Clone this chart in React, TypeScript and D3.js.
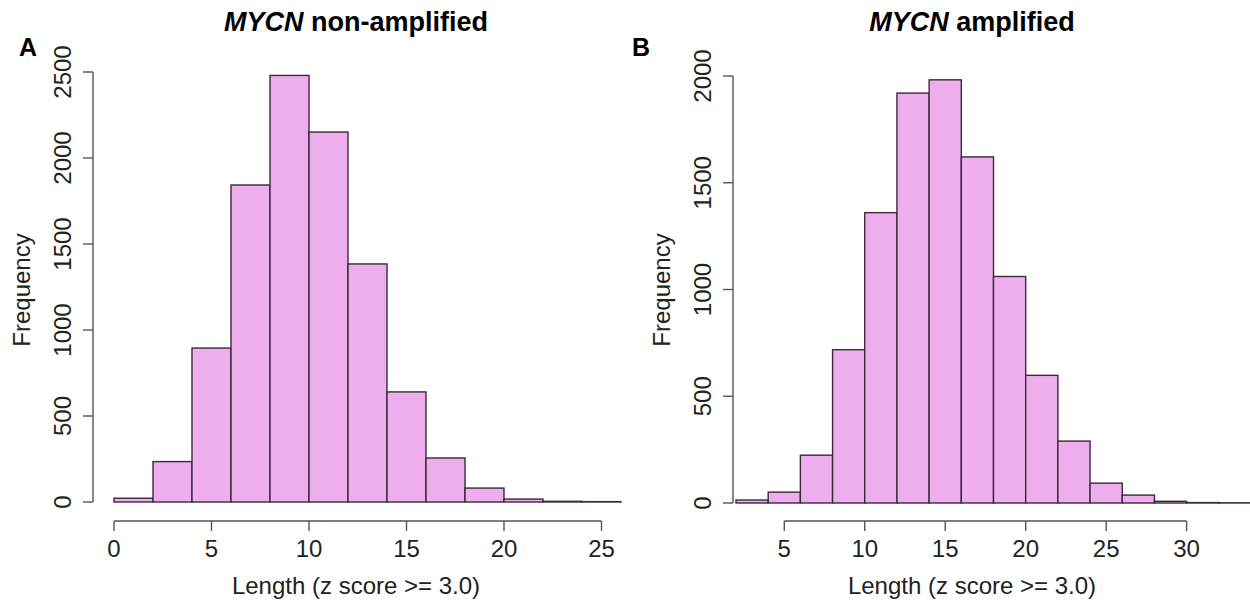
import * as d3 from "d3";

// histogram bins are 2 units wide
const binStartsA = [0, 2, 4, 6, 8, 10, 12, 14, 16, 18, 20, 22, 24];
const countsA = [22, 235, 895, 1843, 2480, 2151, 1384, 640, 256, 81, 17, 4, 2];
const xTicksA = [0, 5, 10, 15, 20, 25];
const yTicksA = [0, 500, 1000, 1500, 2000, 2500];

const binStartsB = [2, 4, 6, 8, 10, 12, 14, 16, 18, 20, 22, 24, 26, 28, 30, 32];
const countsB = [14, 51, 224, 718, 1360, 1920, 1982, 1621, 1061, 598, 290, 93, 37, 8, 2, 1];
const xTicksB = [5, 10, 15, 20, 25, 30];
const yTicksB = [0, 500, 1000, 1500, 2000];

const binWidth = 2;
const font = "'Liberation Sans', Arial, sans-serif";
const fill = "#eeaeee";
const barStroke = "#3a2a3a";
const axisColor = "#555";

type PanelProps = {
  letter: string;
  letterX: number;
  titleRest: string;
  starts: number[];
  counts: number[];
  xTicks: number[];
  yTicks: number[];
  xDomain: [number, number];
  xRange: [number, number];
  yRange: [number, number];
  axisX: number;
  centerX: number;
};

const Panel = ({ letter, letterX, titleRest, starts, counts, xTicks, yTicks, xDomain, xRange, yRange, axisX, centerX }: PanelProps) => {
  const x = d3.scaleLinear().domain(xDomain).range(xRange);
  const y = d3.scaleLinear().domain([0, d3.max(yTicks) as number]).range(yRange);
  const axisY = 521;

  return (
    <g fontFamily={font}>
      <text x={letterX} y={56} fontSize={25} fontWeight="bold" textAnchor="middle">{letter}</text>
      <text x={centerX} y={31} fontSize={27} fontWeight="bold" textAnchor="middle">
        <tspan fontStyle="italic">MYCN</tspan> {titleRest}
      </text>

      {/* bars */}
      <g>
        {starts.map((s, i) => (
          <rect
            key={i}
            x={x(s)}
            y={y(counts[i])}
            width={x(s + binWidth) - x(s)}
            height={y(0) - y(counts[i])}
            fill={fill}
            stroke={barStroke}
            strokeWidth={1.4}
          />
        ))}
      </g>

      {/* y axis */}
      <g stroke={axisColor} strokeWidth={1.4}>
        <line x1={axisX} x2={axisX} y1={y(yTicks[0])} y2={y(yTicks[yTicks.length - 1])} />
        {yTicks.map((t) => (
          <line key={t} x1={axisX - 10} x2={axisX} y1={y(t)} y2={y(t)} />
        ))}
      </g>
      {yTicks.map((t) => (
        <text key={t} transform={`translate(${axisX - 22},${y(t)}) rotate(-90)`} fontSize={24} textAnchor="middle" fill="#222">
          {t}
        </text>
      ))}
      <text transform={`translate(${axisX - 63},290) rotate(-90)`} fontSize={24} textAnchor="middle" fill="#222">
        Frequency
      </text>

      {/* x axis */}
      <g stroke={axisColor} strokeWidth={1.4}>
        <line x1={x(xTicks[0])} x2={x(xTicks[xTicks.length - 1])} y1={axisY} y2={axisY} />
        {xTicks.map((t) => (
          <line key={t} x1={x(t)} x2={x(t)} y1={axisY} y2={axisY + 10} />
        ))}
      </g>
      {xTicks.map((t) => (
        <text key={t} x={x(t)} y={557} fontSize={24} textAnchor="middle" fill="#222">
          {t}
        </text>
      ))}
      <text x={centerX} y={594} fontSize={24} textAnchor="middle" fill="#222">
        Length (z score &gt;= 3.0)
      </text>
    </g>
  );
};

export default function App() {
  return (
    <svg width={1250} height={608} style={{ position: "absolute", left: 0, top: 0, background: "#fff" }}>
      <rect width={1250} height={608} fill="#fff" />
      <Panel
        letter="A"
        letterX={28}
        titleRest="non-amplified"
        starts={binStartsA}
        counts={countsA}
        xTicks={xTicksA}
        yTicks={yTicksA}
        xDomain={[0, 26]}
        xRange={[114, 621]}
        yRange={[502, 72]}
        axisX={93}
        centerX={356}
      />
      <Panel
        letter="B"
        letterX={641}
        titleRest="amplified"
        starts={binStartsB}
        counts={countsB}
        xTicks={xTicksB}
        yTicks={yTicksB}
        xDomain={[2, 34]}
        xRange={[736, 1251]}
        yRange={[503, 76]}
        axisX={733}
        centerX={972}
      />
    </svg>
  );
}
